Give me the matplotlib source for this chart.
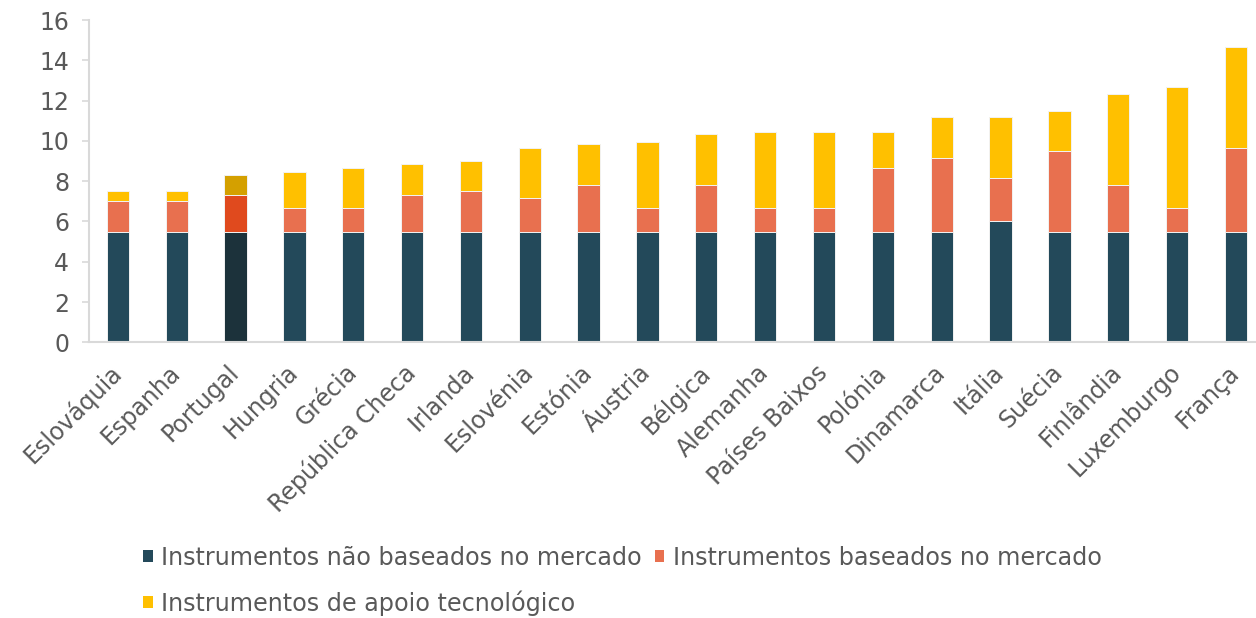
import matplotlib
matplotlib.use("Agg")
import matplotlib.pyplot as plt
import numpy as np
from matplotlib.patches import Patch

countries = ["Eslováquia", "Espanha", "Portugal", "Hungria", "Grécia", "República Checa",
             "Irlanda", "Eslovénia", "Estónia", "Áustria", "Bélgica", "Alemanha",
             "Países Baixos", "Polónia", "Dinamarca", "Itália", "Suécia", "Finlândia",
             "Luxemburgo", "França"]
nao_mercado = [5.5, 5.5, 5.5, 5.5, 5.5, 5.5, 5.5, 5.5, 5.5, 5.5, 5.5, 5.5, 5.5, 5.5,
               5.5, 6.0, 5.5, 5.5, 5.5, 5.5]
mercado = [1.5, 1.5, 1.83, 1.17, 1.17, 1.83, 2.0, 1.67, 2.33, 1.17, 2.33, 1.17, 1.17,
           3.17, 3.67, 2.17, 4.0, 2.33, 1.17, 4.17]
tecnologico = [0.5, 0.5, 1.0, 1.8, 2.0, 1.5, 1.5, 2.5, 2.0, 3.25, 2.5, 3.75, 3.75,
               1.75, 2.0, 3.0, 2.0, 4.5, 6.0, 5.0]
labels = ["Instrumentos não baseados no mercado", "Instrumentos baseados no mercado",
          "Instrumentos de apoio tecnológico"]
yticks = [0, 2, 4, 6, 8, 10, 12, 14, 16]

c_dark, c_orange, c_yellow = "#23495A", "#E8704F", "#FFC000"
p_dark, p_orange, p_yellow = "#1C323B", "#E04A1E", "#D4A000"
highlight = "Portugal"

fig = plt.figure(figsize=(12.56, 6.18), dpi=100)
ax = fig.add_axes([88.5 / 1256, (618 - 342.3) / 618, 1176.8 / 1256, 322.3 / 618])

x = np.arange(len(countries))
col1 = [p_dark if c == highlight else c_dark for c in countries]
col2 = [p_orange if c == highlight else c_orange for c in countries]
col3 = [p_yellow if c == highlight else c_yellow for c in countries]
w = 0.38
ekw = dict(edgecolor="#f2f2f2", linewidth=0.7)
ax.bar(x, nao_mercado, w, color=col1, **ekw)
bottom2 = np.array(nao_mercado)
ax.bar(x, mercado, w, bottom=bottom2, color=col2, **ekw)
bottom3 = bottom2 + np.array(mercado)
ax.bar(x, tecnologico, w, bottom=bottom3, color=col3, **ekw)

ax.set_xlim(-0.5, 19.5)
ax.set_ylim(0, 16)
ax.set_yticks(yticks)
ax.set_yticklabels([str(v) for v in yticks])
ax.set_xticks(x)
ax.set_xticklabels(countries, rotation=45, ha="right", va="center", rotation_mode="anchor")

for s in ["top", "right"]:
    ax.spines[s].set_visible(False)
for s in ["left", "bottom"]:
    ax.spines[s].set_color("#D9D9D9")
    ax.spines[s].set_linewidth(1.5)
ax.tick_params(axis="y", colors="#D9D9D9", labelcolor="#595959", labelsize=17,
               length=5, width=1.2, pad=9)
ax.tick_params(axis="x", length=0, labelcolor="#595959", labelsize=17, pad=19)

h = [Patch(facecolor=c_dark), Patch(facecolor=c_orange), Patch(facecolor=c_yellow)]
order = [0, 2, 1]
fig.legend([h[i] for i in order], [labels[i] for i in order], ncol=2,
           loc="upper left", bbox_to_anchor=(143 / 1256, 1 - 546 / 618),
           frameon=False, borderpad=0, borderaxespad=0, fontsize=17.2,
           handlelength=0.4, handleheight=0.4, handletextpad=0.35,
           columnspacing=0.55, labelspacing=0.85, labelcolor="#595959")

fig.savefig("out.png", dpi=100)
